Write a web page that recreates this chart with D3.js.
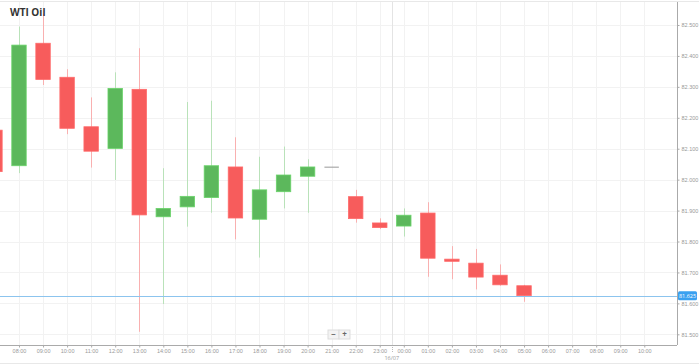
<!DOCTYPE html>
<html>
<head>
<meta charset="utf-8">
<script src="https://cdn.jsdelivr.net/npm/d3@7"></script>
<style>
  body { margin: 0; background: #fff; }
  svg { display: block; font-family: "Open Sans", "Noto Sans", sans-serif; }
</style>
</head>
<body>
<div id="chart"></div>
<script>
// candle data, hour index counted from 00:00 on 15/07
var hours  = [7, 8, 9, 10, 11, 12, 13, 14, 15, 16, 17, 18, 19, 20, 21, 22, 23, 24, 25, 26, 27, 28, 29];
var opens  = [82.160, 82.045, 82.441, 82.331, 82.171, 82.101, 82.292, 81.880, 81.912, 81.942, 82.041, 81.872, 81.961, 82.011, 82.042, 81.945, 81.860, 81.850, 81.892, 81.743, 81.730, 81.691, 81.657];
var highs  = [82.170, 82.495, 82.536, 82.357, 82.266, 82.347, 82.425, 82.037, 82.251, 82.255, 82.137, 82.074, 82.107, 82.066, 82.042, 81.967, 81.875, 81.907, 81.927, 81.785, 81.776, 81.726, 81.660];
var lows   = [82.020, 82.021, 82.306, 82.147, 82.039, 81.999, 81.508, 81.598, 81.848, 81.893, 81.807, 81.748, 81.907, 81.893, 82.042, 81.861, 81.840, 81.816, 81.686, 81.678, 81.645, 81.657, 81.605];
var closes = [82.026, 82.435, 82.324, 82.166, 82.092, 82.295, 81.886, 81.907, 81.946, 82.045, 81.876, 81.967, 82.015, 82.041, 82.042, 81.874, 81.845, 81.885, 81.746, 81.736, 81.685, 81.660, 81.625];

var lastPrice = 81.625;
var priceTicks = [81.5, 81.6, 81.7, 81.8, 81.9, 82.0, 82.1, 82.2, 82.3, 82.4, 82.5];
var hourTicks = d3.range(8, 35); // 08:00 .. 10:00 next day
var dayBreak = 23.5;
var dayLabel = "16/07";

var width = 699, height = 364;
var plotRight = 677, plotBottom = 345;

var svg = d3.select("#chart").append("svg")
    .attr("width", width)
    .attr("height", height);

var x = d3.scaleLinear().domain([7.21, 35.36]).range([0, plotRight]);
var y = d3.scaleLinear().domain([81.5, 82.5]).range([334.3, 25]);

var candleW = (x(1) - x(0)) * 0.6;

// borders
svg.append("line").attr("x1", 0).attr("x2", width).attr("y1", 1.5).attr("y2", 1.5)
  .attr("stroke", "#e8e8e8");
svg.append("line").attr("x1", 0).attr("x2", width).attr("y1", 363.5).attr("y2", 363.5)
  .attr("stroke", "#e8e8e8");

// grid
var grid = svg.append("g");
grid.selectAll(".vg").data(hourTicks.concat([7])).enter().append("line")
  .attr("x1", function(d) { return Math.round(x(d)) + 0.5; })
  .attr("x2", function(d) { return Math.round(x(d)) + 0.5; })
  .attr("y1", 2).attr("y2", plotBottom)
  .attr("stroke", "#f2f2f2");
grid.selectAll(".hg").data(priceTicks).enter().append("line")
  .attr("x1", 0).attr("x2", plotRight)
  .attr("y1", function(d) { return Math.round(y(d)) + 0.5; })
  .attr("y2", function(d) { return Math.round(y(d)) + 0.5; })
  .attr("stroke", "#f2f2f2");

// day separator
svg.append("line")
  .attr("x1", Math.round(x(dayBreak)) + 0.5).attr("x2", Math.round(x(dayBreak)) + 0.5)
  .attr("y1", 2).attr("y2", plotBottom)
  .attr("stroke", "#e4e4e4");
svg.append("line")
  .attr("x1", Math.round(x(dayBreak)) + 0.5).attr("x2", Math.round(x(dayBreak)) + 0.5)
  .attr("y1", plotBottom).attr("y2", plotBottom + 8)
  .attr("stroke", "#bbb").attr("stroke-dasharray", "1,1");

// candles
var candles = hours.map(function(h, i) {
  return {h: h, o: opens[i], hi: highs[i], lo: lows[i], c: closes[i]};
});
function col(d) { return d.c > d.o ? "#5cb85c" : (d.c < d.o ? "#f75c5c" : "#999"); }
function wickCol(d) { return d.c > d.o ? "#b9e2b9" : (d.c < d.o ? "#f9b0b0" : "#999"); }

var cg = svg.append("g");
cg.selectAll(".wick").data(candles).enter().append("line")
  .attr("x1", function(d) { return Math.round(x(d.h)) + 0.5; })
  .attr("x2", function(d) { return Math.round(x(d.h)) + 0.5; })
  .attr("y1", function(d) { return y(d.hi); })
  .attr("y2", function(d) { return y(d.lo); })
  .attr("stroke", wickCol);
cg.selectAll(".body").data(candles).enter().append("rect")
  .attr("x", function(d) { return x(d.h) - candleW / 2; })
  .attr("width", candleW)
  .attr("y", function(d) { return y(Math.max(d.o, d.c)); })
  .attr("height", function(d) { return Math.max(1, Math.abs(y(d.o) - y(d.c))); })
  .attr("fill", col)
  .attr("stroke", function(d) { return d.c === d.o ? "none" : d3.rgb(col(d)).brighter(0.4); })
  .attr("stroke-width", 0.8);

// last price line
svg.append("line")
  .attr("x1", 0).attr("x2", plotRight)
  .attr("y1", Math.round(y(lastPrice)) + 0.5).attr("y2", Math.round(y(lastPrice)) + 0.5)
  .attr("stroke", "#8cc4ee");

// axes
var yAxis = svg.append("g")
  .attr("transform", "translate(" + (plotRight + 0.5) + ",0)")
  .call(d3.axisRight(y).tickValues(priceTicks).tickFormat(d3.format(".3f")).tickSize(2).tickPadding(2));
yAxis.select(".domain").attr("stroke", "#aaa").attr("d", "M0,2V" + plotBottom);
yAxis.selectAll(".tick line").attr("stroke", "#aaa");
yAxis.selectAll("text").attr("fill", "#999").style("font-size", "5.5px");

var xAxis = svg.append("g")
  .attr("transform", "translate(0," + (plotBottom + 0.5) + ")")
  .call(d3.axisBottom(x).tickValues([7].concat(hourTicks))
    .tickFormat(function(d) { return d === 7 ? "" : d3.format("02d")(d % 24) + ":00"; })
    .tickSize(2).tickPadding(2));
xAxis.select(".domain").attr("stroke", "#aaa").attr("d", "M0,0H" + plotRight);
xAxis.selectAll(".tick line").attr("stroke", "#aaa");
xAxis.selectAll("text").attr("fill", "#999").style("font-size", "5.5px");

svg.append("text")
  .attr("x", x(dayBreak)).attr("y", 360)
  .attr("text-anchor", "middle")
  .attr("fill", "#999").style("font-size", "5.5px")
  .text(dayLabel);

// price label
var py = y(lastPrice);
svg.append("rect").attr("x", plotRight + 1).attr("y", py - 4.5).attr("width", 19).attr("height", 9)
  .attr("rx", 1.5).attr("fill", "#3aa0f0");
svg.append("text").attr("x", plotRight + 10.5).attr("y", py + 2)
  .attr("text-anchor", "middle").attr("fill", "#fff").style("font-size", "5.5px")
  .text(d3.format(".3f")(lastPrice));

// zoom buttons
var zb = svg.append("g").attr("transform", "translate(328,330)");
zb.append("rect").attr("width", 11).attr("height", 9).attr("fill", "#f3f3f3").attr("stroke", "#ddd");
zb.append("rect").attr("x", 11).attr("width", 11).attr("height", 9).attr("fill", "#f3f3f3").attr("stroke", "#ddd");
zb.append("text").attr("x", 5.5).attr("y", 7).attr("text-anchor", "middle").attr("fill", "#666")
  .style("font-size", "8px").style("font-weight", "bold").text("−");
zb.append("text").attr("x", 16.5).attr("y", 7).attr("text-anchor", "middle").attr("fill", "#666")
  .style("font-size", "8px").style("font-weight", "bold").text("+");

// title
svg.append("text").attr("x", 10).attr("y", 16)
  .attr("fill", "#333").style("font-size", "10px").style("font-weight", "bold")
  .text("WTI Oil");
</script>
</body>
</html>
